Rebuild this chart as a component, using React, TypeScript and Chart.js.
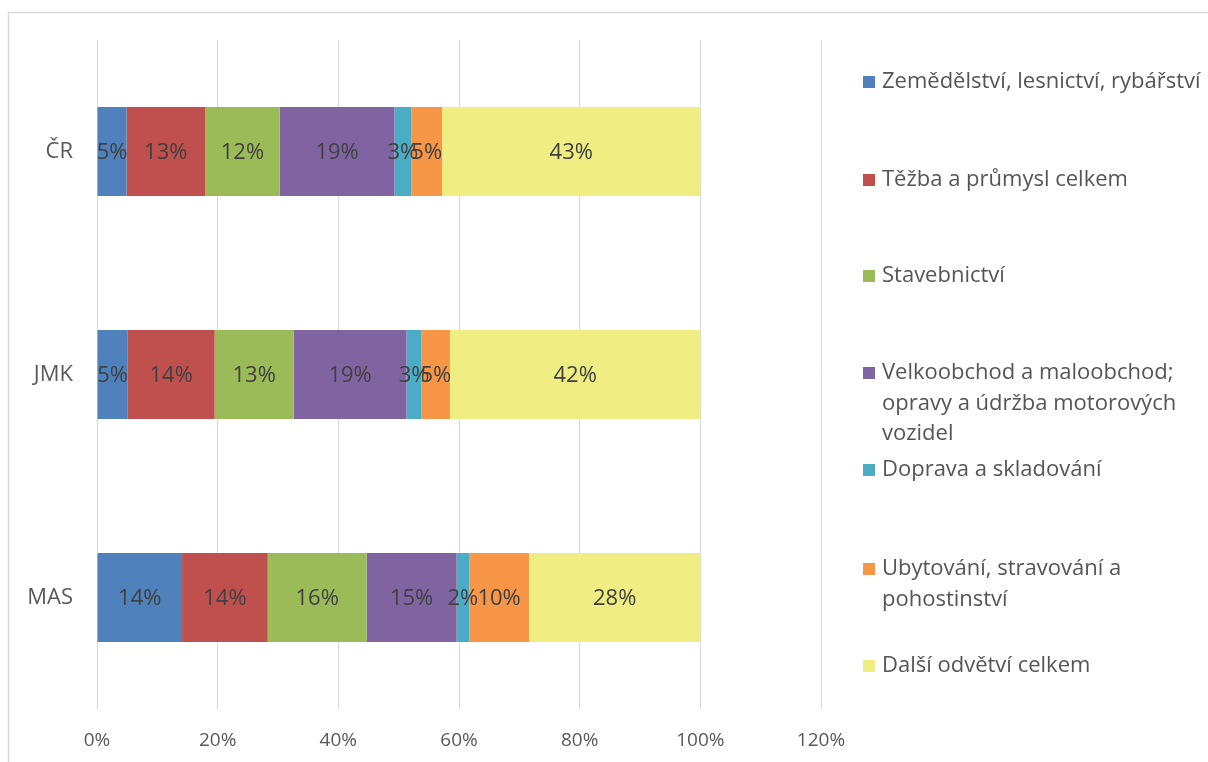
import React, { useEffect, useRef } from "react";
import { Chart, registerables } from "chart.js";

Chart.register(...registerables);

const categories = ["ČR", "JMK", "MAS"];

const seriesNames = [
  "Zemědělství, lesnictví, rybářství",
  "Těžba a průmysl celkem",
  "Stavebnictví",
  "Velkoobchod a maloobchod; opravy a údržba motorových vozidel",
  "Doprava a skladování",
  "Ubytování, stravování a pohostinství",
  "Další odvětví celkem",
];

const agriculture = [4.9, 5.1, 14.1];
const industry = [13.0, 14.4, 14.2];
const construction = [12.4, 13.1, 16.4];
const trade = [19.0, 18.7, 14.9];
const transport = [2.8, 2.5, 2.1];
const accommodation = [5.1, 4.7, 9.9];
const other = [42.8, 41.5, 28.4];

const seriesValues = [agriculture, industry, construction, trade, transport, accommodation, other];

const xTicks = [0, 20, 40, 60, 80, 100, 120];

const colors = ["#4F81BD", "#C0504D", "#9BBB59", "#8064A2", "#4BACC6", "#F79646", "#F0EE82"];

const FONT = "'Open Sans', Lato, sans-serif";
const legendTops = [82, 180, 276, 373, 470, 569, 666];

export default function App() {
  const ref = useRef<HTMLCanvasElement | null>(null);

  useEffect(() => {
    if (!ref.current) return;

    const framePlugin = {
      id: "frame",
      beforeDraw(chart: any) {
        const ctx = chart.ctx;
        ctx.save();
        ctx.fillStyle = "#ffffff";
        ctx.fillRect(0, 0, chart.width, chart.height);
        ctx.strokeStyle = "#D9D9D9";
        ctx.lineWidth = 1.5;
        ctx.strokeRect(8.5, 12.5, 1400, 1000);
        ctx.restore();
      },
    };

    const labelPlugin = {
      id: "barLabels",
      afterDatasetsDraw(chart: any) {
        const ctx = chart.ctx;
        ctx.save();
        ctx.font = `22px ${FONT}`;
        ctx.fillStyle = "#404040";
        ctx.textAlign = "center";
        ctx.textBaseline = "middle";
        chart.data.datasets.forEach((ds: any, i: number) => {
          const meta = chart.getDatasetMeta(i);
          meta.data.forEach((bar: any, j: number) => {
            const p = bar.getCenterPoint();
            ctx.fillText(Math.round(ds.data[j]) + "%", p.x, p.y + 1);
          });
        });
        ctx.restore();
      },
    };

    const legendPlugin = {
      id: "sideLegend",
      afterDraw(chart: any) {
        const ctx = chart.ctx;
        ctx.save();
        ctx.font = `22px ${FONT}`;
        ctx.textBaseline = "middle";
        ctx.textAlign = "left";
        const maxW = 340;
        chart.data.datasets.forEach((ds: any, i: number) => {
          const words = String(ds.label).split(" ");
          const lines: string[] = [];
          let cur = "";
          words.forEach((w) => {
            const t = cur ? cur + " " + w : w;
            if (ctx.measureText(t).width > maxW && cur) {
              lines.push(cur);
              cur = w;
            } else cur = t;
          });
          if (cur) lines.push(cur);
          const y0 = legendTops[i];
          ctx.fillStyle = ds.backgroundColor;
          ctx.fillRect(863, y0 - 6, 12, 12);
          ctx.fillStyle = "#555555";
          lines.forEach((ln, k) => ctx.fillText(ln, 882, y0 + k * 30.5));
        });
        ctx.restore();
      },
    };

    const chart = new Chart(ref.current, {
      type: "bar",
      data: {
        labels: categories,
        datasets: seriesNames.map((name, i) => ({
          label: name,
          data: seriesValues[i],
          backgroundColor: colors[i],
          borderWidth: 0,
          barPercentage: 0.4,
          categoryPercentage: 1,
        })),
      },
      options: {
        indexAxis: "y",
        responsive: false,
        animation: false,
        layout: { padding: { left: 0, top: 40, right: 387, bottom: 0 } },
        plugins: {
          legend: { display: false },
          tooltip: { enabled: false },
        },
        scales: {
          x: {
            stacked: true,
            min: 0,
            max: 120,
            afterBuildTicks(scale: any) {
              scale.ticks = xTicks.map((v) => ({ value: v }));
            },
            afterFit(scale: any) {
              scale.height = 53;
            },
            grid: { color: "#D9D9D9", lineWidth: 1, drawTicks: false },
            border: { display: false },
            ticks: {
              padding: 20,
              color: "#595959",
              font: { family: FONT, size: 19 },
              callback: (v: any) => v + "%",
            },
          },
          y: {
            stacked: true,
            afterFit(scale: any) {
              scale.width = 97;
            },
            grid: { display: false, drawTicks: false },
            border: { display: false },
            ticks: {
              padding: 24,
              color: "#595959",
              font: { family: FONT, size: 22 },
            },
          },
        },
      },
      plugins: [framePlugin, labelPlugin, legendPlugin],
    });

    return () => chart.destroy();
  }, []);

  return (
    <div style={{ position: "absolute", left: 0, top: 0, width: 1208, height: 762, overflow: "hidden" }}>
      <canvas ref={ref} width={1208} height={762} style={{ display: "block" }} />
    </div>
  );
}
